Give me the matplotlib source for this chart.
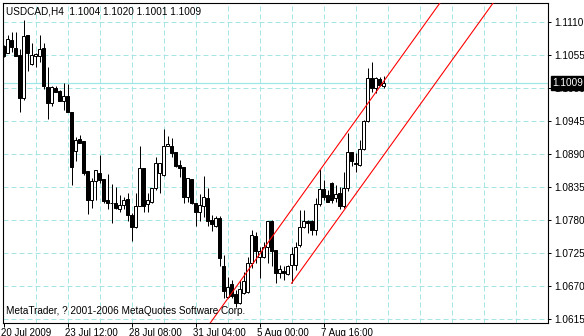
import matplotlib
matplotlib.use("Agg")
import matplotlib.pyplot as plt
from matplotlib.transforms import ScaledTranslation

plt.rcParams['font.family'] = ['Liberation Sans', 'DejaVu Sans']

# ---------------- data (USDCAD H4 candles) ----------------
opens = [1.1071, 1.1059, 1.1081, 1.1067, 1.1056, 1.0984, 1.1089, 1.1041, 1.1054, 1.1054,
         1.1067, 1.1002, 1.0976, 1.1000, 1.0996, 1.0979, 1.0987, 1.0961, 1.0896, 1.0915,
         1.0912, 1.0862, 1.0814, 1.0846, 1.0858, 1.0849, 1.0814, 1.0809, 1.0808, 1.0799,
         1.0806, 1.0816, 1.0788, 1.0768, 1.0804, 1.0867, 1.0807, 1.0811, 1.0834, 1.0858,
         1.0856, 1.0904, 1.0904, 1.0894, 1.0872, 1.0868, 1.0818, 1.0848, 1.0808, 1.0793,
         1.0803, 1.0817, 1.0781, 1.0770, 1.0783, 1.0703, 1.0652, 1.0673, 1.0657, 1.0642,
         1.0658, 1.0660, 1.0708, 1.0754, 1.0719, 1.0719, 1.0736, 1.0779, 1.0730, 1.0692,
         1.0696, 1.0690, 1.0705, 1.0705, 1.0738, 1.0768, 1.0779, 1.0779, 1.0764, 1.0807,
         1.0832, 1.0822, 1.0842, 1.0817, 1.0826, 1.0803, 1.0833, 1.0894, 1.0876, 1.0872,
         1.0898, 1.0946, 1.1017, 1.1000, 1.1015, 1.1004]
highs = [1.1072, 1.1089, 1.1093, 1.1094, 1.1065, 1.1114, 1.1089, 1.1075, 1.1059, 1.1089,
         1.1076, 1.1035, 1.1004, 1.1004, 1.0997, 1.1008, 1.1007, 1.0961, 1.0918, 1.0922,
         1.0912, 1.0862, 1.0850, 1.0863, 1.0889, 1.0849, 1.0857, 1.0841, 1.0835, 1.0822,
         1.0819, 1.0826, 1.0792, 1.0825, 1.0904, 1.0867, 1.0825, 1.0833, 1.0886, 1.0876,
         1.0932, 1.0921, 1.0917, 1.0894, 1.0881, 1.0868, 1.0850, 1.0848, 1.0809, 1.0824,
         1.0854, 1.0833, 1.0789, 1.0787, 1.0787, 1.0722, 1.0686, 1.0680, 1.0664, 1.0681,
         1.0693, 1.0719, 1.0764, 1.0761, 1.0736, 1.0744, 1.0778, 1.0781, 1.0730, 1.0705,
         1.0704, 1.0705, 1.0736, 1.0743, 1.0797, 1.0797, 1.0781, 1.0781, 1.0817, 1.0865,
         1.0847, 1.0831, 1.0844, 1.0839, 1.0836, 1.0861, 1.0926, 1.0894, 1.0892, 1.0914,
         1.0947, 1.1033, 1.1044, 1.1019, 1.1019, 1.1020]
lows = [1.1052, 1.1058, 1.1061, 1.1054, 1.0961, 1.0981, 1.1029, 1.1039, 1.1036, 1.1043,
        1.0998, 1.0948, 1.0971, 1.0993, 1.0978, 1.0964, 1.0961, 1.0838, 1.0878, 1.0908,
        1.0856, 1.0791, 1.0800, 1.0813, 1.0842, 1.0809, 1.0798, 1.0775, 1.0799, 1.0793,
        1.0798, 1.0779, 1.0746, 1.0767, 1.0803, 1.0793, 1.0794, 1.0809, 1.0831, 1.0826,
        1.0854, 1.0904, 1.0886, 1.0869, 1.0852, 1.0808, 1.0811, 1.0807, 1.0770, 1.0778,
        1.0786, 1.0770, 1.0762, 1.0769, 1.0703, 1.0650, 1.0650, 1.0650, 1.0636, 1.0640,
        1.0657, 1.0658, 1.0700, 1.0708, 1.0683, 1.0717, 1.0708, 1.0703, 1.0675, 1.0683,
        1.0681, 1.0689, 1.0675, 1.0697, 1.0736, 1.0767, 1.0758, 1.0755, 1.0755, 1.0803,
        1.0814, 1.0811, 1.0809, 1.0811, 1.0798, 1.0800, 1.0828, 1.0871, 1.0861, 1.0871,
        1.0897, 1.0944, 1.0993, 1.0992, 1.1003, 1.1001]
closes = [1.1053, 1.1082, 1.1068, 1.1054, 1.0984, 1.1087, 1.1058, 1.1056, 1.1057, 1.1065,
          1.1003, 1.0976, 1.1002, 1.0994, 1.0979, 1.0987, 1.0961, 1.0869, 1.0914, 1.0909,
          1.0859, 1.0814, 1.0846, 1.0863, 1.0847, 1.0812, 1.0808, 1.0808, 1.0801, 1.0806,
          1.0814, 1.0788, 1.0768, 1.0804, 1.0867, 1.0804, 1.0813, 1.0833, 1.0875, 1.0875,
          1.0903, 1.0907, 1.0892, 1.0871, 1.0867, 1.0818, 1.0850, 1.0808, 1.0794, 1.0806,
          1.0818, 1.0779, 1.0773, 1.0784, 1.0717, 1.0662, 1.0669, 1.0654, 1.0642, 1.0665,
          1.0679, 1.0709, 1.0755, 1.0728, 1.0729, 1.0736, 1.0778, 1.0728, 1.0692, 1.0698,
          1.0692, 1.0703, 1.0724, 1.0735, 1.0768, 1.0779, 1.0776, 1.0764, 1.0807, 1.0832,
          1.0819, 1.0811, 1.0814, 1.0824, 1.0804, 1.0833, 1.0893, 1.0878, 1.0873, 1.0898,
          1.0946, 1.1017, 1.1000, 1.1017, 1.1005, 1.1009]

date_tick_bars = [0, 16, 32, 48, 64, 80]
date_tick_labels = ["20 Jul 2009", "23 Jul 12:00", "28 Jul 08:00",
                    "31 Jul 04:00", "5 Aug 00:00", "7 Aug 16:00"]
grid_step_bars = 8
price_ticks = [1.0615, 1.0670, 1.0725, 1.0780, 1.0835, 1.0890, 1.0945, 1.1000, 1.1055, 1.1110]
bid_price = 1.1009
title_text = "USDCAD,H4  1.1004 1.1020 1.1001 1.1009"
watermark_text = "MetaTrader, ? 2001-2006 MetaQuotes Software Corp."

# equidistant channel (bar index, price) anchor points
channel_upper_x = [51.6, 109.3]
channel_upper_y = [1.0608, 1.1144]
channel_lower_x = [72.0, 122.6]
channel_lower_y = [1.0675, 1.1144]

# ---------------- figure ----------------
W, H = 584, 336
DPI = 100
fig = plt.figure(figsize=(W / DPI, H / DPI), dpi=DPI, facecolor="white")

px = 0.72  # one pixel in points
left_px, right_px, top_px, bottom_px = 3.0, 548.3, 2.5, 323.3
ax = fig.add_axes([left_px / W, (H - bottom_px) / H,
                   (right_px - left_px) / W, (bottom_px - top_px) / H])
ax.set_facecolor("white")

n = len(opens)
xs = list(range(n))
ax.set_xlim(-0.125, 136.2)
ax.set_ylim(1.06083, 1.11430)

grid_col = "#a6e6e6"
# grid
for k in range(grid_step_bars, 137, grid_step_bars):
    ax.axvline(k, color=grid_col, lw=px, linestyle=(0, (5, 3)), zorder=0)
for p in price_ticks:
    ax.axhline(p, color=grid_col, lw=px, linestyle=(0, (5, 3)), zorder=0)

# bid line
ax.axhline(bid_price, color="#9fe6e6", lw=px * 1.2, zorder=1)

# candles
ax.vlines(xs, lows, highs, colors="black", lw=px, zorder=2)
body_bottom = [min(o, c) for o, c in zip(opens, closes)]
body_height = [abs(c - o) for o, c in zip(opens, closes)]
face = ["white" if c >= o else "black" for o, c in zip(opens, closes)]
ax.bar(xs, body_height, bottom=body_bottom, width=0.52, color=face,
       edgecolor="black", linewidth=px, zorder=3)

# channel lines
ax.plot(channel_upper_x, channel_upper_y, color="red", lw=px * 1.1, zorder=4)
ax.plot(channel_lower_x, channel_lower_y, color="red", lw=px * 1.1, zorder=4)

# axes / ticks
for s in ax.spines.values():
    s.set_color("black")
    s.set_linewidth(px * 1.1)

ax.yaxis.tick_right()
ax.set_yticks(price_ticks)
ax.set_yticklabels([f"{p:.4f}" for p in price_ticks])
ax.tick_params(axis="y", which="both", direction="out", length=2.3, width=px,
               pad=2.2, labelsize=7.2, colors="black")

ax.set_xticks(date_tick_bars)
ax.set_xticklabels(date_tick_labels)
ax.tick_params(axis="x", direction="out", length=2.9, width=px, pad=0.6,
               labelsize=7.0, colors="black")
offset = ScaledTranslation(-2.5 / DPI, 0, fig.dpi_scale_trans)
for lab in ax.get_xticklabels():
    lab.set_ha("left")
    lab.set_transform(lab.get_transform() + offset)

# bid price label box on the right axis
ax.annotate(f"{bid_price:.4f}", xy=(1.0, bid_price), xycoords=("axes fraction", "data"),
            xytext=(4.0 * px, 0), textcoords="offset points", ha="left", va="center",
            fontsize=7.2, color="white", zorder=10, annotation_clip=False,
            bbox=dict(boxstyle="square,pad=0.18", fc="black", ec="black"))

# texts
fig.text(6.5 / W, (H - 7.0) / H, title_text, ha="left", va="top", fontsize=7.2, color="black")
fig.text(6.0 / W, (H - 313.8) / H, watermark_text, ha="left", va="baseline",
         fontsize=7.2, color="black")

fig.savefig("out.png", dpi=DPI, facecolor="white")
